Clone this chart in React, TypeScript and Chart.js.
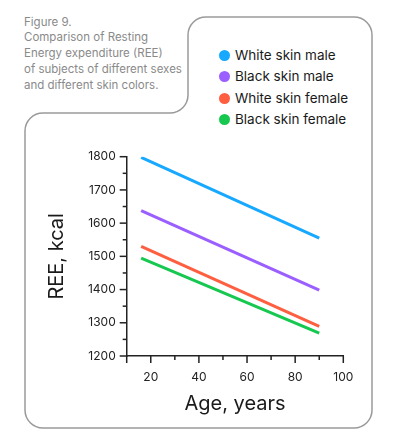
import React, { useEffect, useRef } from "react";
import { Chart, registerables } from "chart.js";

Chart.register(...registerables);

const seriesNames = ["White skin male", "Black skin male", "White skin female", "Black skin female"];
const seriesColors = ["#17a8ff", "#9b5fff", "#ff5f41", "#17c850"];
const ages = [16, 90];
const whiteMale = [1798, 1555];
const blackMale = [1638, 1398];
const whiteFemale = [1530, 1289];
const blackFemale = [1495, 1269];
const seriesValues = [whiteMale, blackMale, whiteFemale, blackFemale];
const xTicks = [20, 40, 60, 80, 100];
const yTicks = [1200, 1300, 1400, 1500, 1600, 1700, 1800];
const xMinorTicks = [10, 20, 30, 40, 50, 60, 70, 80, 90, 100];
const yMinorTicks = [1200, 1250, 1300, 1350, 1400, 1450, 1500, 1550, 1600, 1650, 1700, 1750, 1800];
const captionLines = [
  "Figure 9.",
  "Comparison of Resting",
  "Energy expenditure (REE)",
  "of subjects of different sexes",
  "and different skin colors.",
];
const xTitle = "Age, years";
const yTitle = "REE, kcal";

const FONT = "Inter, 'Noto Sans', sans-serif";
const AXIS = "#222";

const tickMarks = {
  id: "tickMarks",
  afterDraw(chart: any) {
    const { ctx, chartArea, scales } = chart;
    const x = scales.x;
    const y = scales.y;
    ctx.save();
    ctx.strokeStyle = AXIS;
    ctx.lineWidth = 1.5;
    yMinorTicks.forEach((v) => {
      const py = y.getPixelForValue(v);
      const len = yTicks.includes(v) ? 7 : 4;
      ctx.beginPath();
      ctx.moveTo(chartArea.left - len, py);
      ctx.lineTo(chartArea.left, py);
      ctx.stroke();
    });
    xMinorTicks.forEach((v, i) => {
      const px = x.getPixelForValue(v);
      const len = xTicks.includes(v) || i === 0 ? 7 : 4;
      ctx.beginPath();
      ctx.moveTo(px, chartArea.bottom);
      ctx.lineTo(px, chartArea.bottom + len);
      ctx.stroke();
    });
    ctx.restore();
  },
};

export default function App() {
  const canvasRef = useRef<HTMLCanvasElement | null>(null);

  useEffect(() => {
    const canvas = canvasRef.current;
    if (!canvas) return;
    const chart = new Chart(canvas, {
      type: "line",
      data: {
        datasets: seriesNames.map((name, i) => ({
          label: name,
          data: ages.map((a, j) => ({ x: a, y: seriesValues[i][j] })),
          borderColor: seriesColors[i],
          backgroundColor: seriesColors[i],
          borderWidth: 3,
          pointRadius: 0,
          fill: false,
        })),
      },
      options: {
        animation: false,
        responsive: false,
        events: [],
        layout: { padding: { left: 45, top: 156.7, right: 49.7, bottom: 29.5 } },
        plugins: { legend: { display: false }, tooltip: { enabled: false } },
        scales: {
          x: {
            type: "linear",
            min: 10,
            max: 100,
            afterBuildTicks: (s: any) => {
              s.ticks = xTicks.map((value) => ({ value }));
            },
            afterFit: (s: any) => {
              s.height = 59.5;
            },
            grid: { display: false, drawTicks: false },
            border: { display: true, color: AXIS, width: 1.5 },
            ticks: {
              autoSkip: false,
              maxRotation: 0,
              padding: 14,
              color: AXIS,
              font: { family: FONT, size: 12 },
              callback: (v: any) => String(v),
            },
            title: {
              display: true,
              text: xTitle,
              color: "#1a1a1a",
              padding: 0,
              font: { family: FONT, size: 20 },
            },
          },
          y: {
            type: "linear",
            min: 1200,
            max: 1800,
            afterBuildTicks: (s: any) => {
              s.ticks = yTicks.map((value) => ({ value }));
            },
            afterFit: (s: any) => {
              s.width = 81.7;
            },
            grid: { display: false, drawTicks: false },
            border: { display: true, color: AXIS, width: 1.5 },
            ticks: {
              padding: 11,
              color: AXIS,
              font: { family: FONT, size: 12 },
              callback: (v: any) => String(v),
            },
            title: {
              display: true,
              text: yTitle,
              color: "#1a1a1a",
              padding: 0,
              font: { family: FONT, size: 20 },
            },
          },
        },
      },
      plugins: [tickMarks],
    });
    return () => chart.destroy();
  }, []);

  const r = 18;
  const L = 25, R = 372, T = 113, B = 428, TL = 188, TT = 17;
  const path = [
    `M ${L + r} ${T}`,
    `L ${TL - r} ${T}`,
    `A ${r} ${r} 0 0 0 ${TL} ${T - r}`,
    `L ${TL} ${TT + r}`,
    `A ${r} ${r} 0 0 1 ${TL + r} ${TT}`,
    `L ${R - r} ${TT}`,
    `A ${r} ${r} 0 0 1 ${R} ${TT + r}`,
    `L ${R} ${B - r}`,
    `A ${r} ${r} 0 0 1 ${R - r} ${B}`,
    `L ${L + r} ${B}`,
    `A ${r} ${r} 0 0 1 ${L} ${B - r}`,
    `L ${L} ${T + r}`,
    `A ${r} ${r} 0 0 1 ${L + r} ${T}`,
    "Z",
  ].join(" ");

  return (
    <div
      style={{
        position: "absolute",
        left: 0,
        top: 0,
        width: 393,
        height: 445,
        background: "#fff",
        fontFamily: FONT,
        overflow: "hidden",
      }}
    >
      <svg width={393} height={445} style={{ position: "absolute", left: 0, top: 0 }}>
        <path d={path} fill="none" stroke="#9a9a9a" strokeWidth={1.5} />
      </svg>
      <div
        style={{
          position: "absolute",
          left: 24,
          top: 14.6,
          fontSize: 11.5,
          lineHeight: "15.75px",
          color: "#8a8a8a",
          whiteSpace: "nowrap",
        }}
      >
        {captionLines.map((t, i) => (
          <div key={i}>{t}</div>
        ))}
      </div>
      <div style={{ position: "absolute", left: 218.5, top: 44.5 }}>
        {seriesNames.map((name, i) => (
          <div
            key={i}
            style={{
              position: "relative",
              height: 21.5,
              lineHeight: "21.5px",
              fontSize: 13.5,
              color: "#1a1a1a",
              paddingLeft: 16.5,
              whiteSpace: "nowrap",
            }}
          >
            <span
              style={{
                position: "absolute",
                left: 0,
                top: 5,
                width: 11,
                height: 11,
                borderRadius: "50%",
                background: seriesColors[i],
              }}
            />
            {name}
          </div>
        ))}
      </div>
      <canvas
        ref={canvasRef}
        width={393}
        height={445}
        style={{ position: "absolute", left: 0, top: 0, width: 393, height: 445 }}
      />
    </div>
  );
}
